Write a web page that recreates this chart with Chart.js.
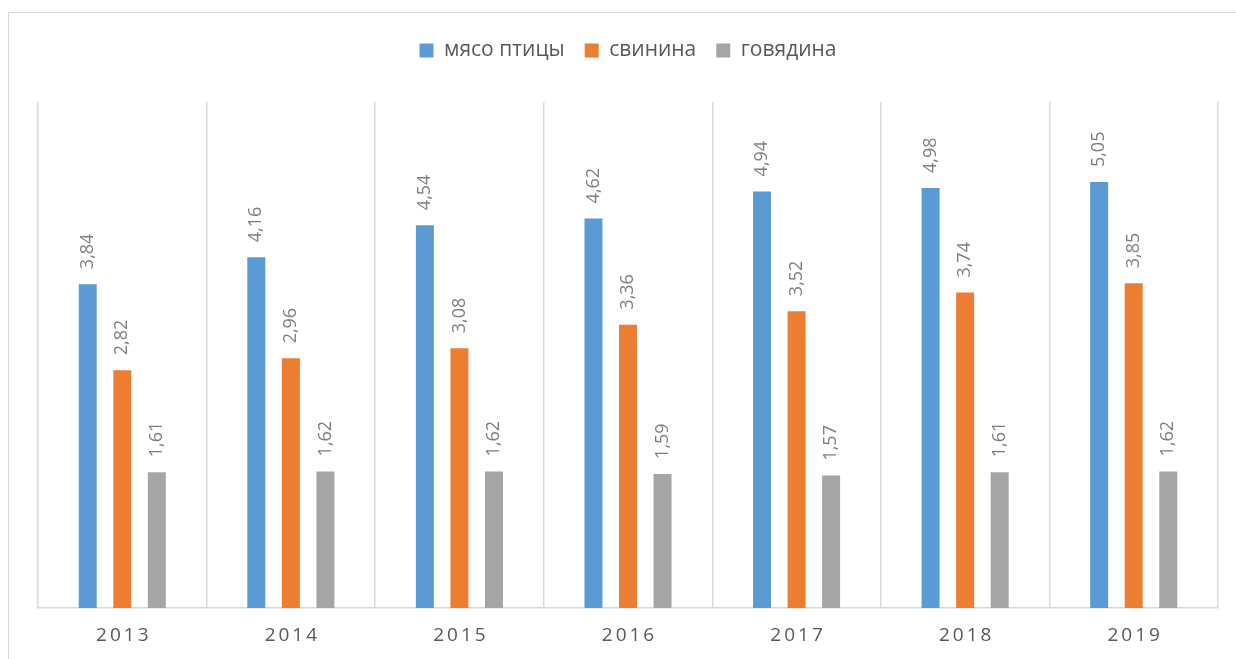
<!DOCTYPE html>
<html>
<head>
<meta charset="utf-8">
<script src="https://cdn.jsdelivr.net/npm/chart.js@4.4.1/dist/chart.umd.min.js"></script>
<style>
  html, body { margin: 0; padding: 0; background: #fff; }
  #wrap { position: relative; width: 1236px; height: 659px; overflow: hidden; }
  #frame { position: absolute; left: 8px; top: 12px; width: 1300px; height: 700px; border: 1px solid #d9d9d9; box-sizing: border-box; }
  canvas { position: absolute; left: 0; top: 0; }
</style>
</head>
<body>
<div id="wrap">
  <div id="frame"></div>
  <canvas id="meatChart" width="1236" height="659"></canvas>
</div>
<script>
// data
const years = ['2013', '2014', '2015', '2016', '2017', '2018', '2019'];
const poultry = [3.84, 4.16, 4.54, 4.62, 4.94, 4.98, 5.05];
const pork = [2.82, 2.96, 3.08, 3.36, 3.52, 3.74, 3.85];
const beef = [1.61, 1.62, 1.62, 1.59, 1.57, 1.61, 1.62];

const fontFam = "'Open Sans', 'DejaVu Sans', sans-serif";

// legend height tweak so plot starts lower
const legendHeight = {
  id: 'legendHeight',
  beforeInit(chart) {
    const origFit = chart.legend.fit;
    chart.legend.fit = function () {
      origFit.bind(chart.legend)();
      this.height = 82;
    };
  }
};

// rotated value labels + spaced year labels
const labelsPlugin = {
  id: 'labelsPlugin',
  afterDraw(chart) {
    const ctx = chart.ctx;
    ctx.save();
    ctx.font = '18px ' + fontFam;
    ctx.fillStyle = '#7f7f7f';
    ctx.textAlign = 'left';
    ctx.textBaseline = 'middle';
    chart.data.datasets.forEach((ds, i) => {
      chart.getDatasetMeta(i).data.forEach((bar, j) => {
        const txt = ds.data[j].toFixed(2).replace('.', ',');
        ctx.save();
        ctx.translate(bar.x, bar.y - 15);
        ctx.rotate(-Math.PI / 2);
        ctx.fillText(txt, 0, 0);
        ctx.restore();
      });
    });
    // x labels
    const xs = chart.scales.x;
    ctx.font = '19px ' + fontFam;
    ctx.fillStyle = '#595959';
    ctx.textAlign = 'center';
    ctx.letterSpacing = '3px';
    years.forEach((y, i) => {
      ctx.fillText(y, xs.getPixelForValue(i) + 1.5, chart.chartArea.bottom + 28);
    });
    ctx.restore();
  }
};

new Chart(document.getElementById('meatChart').getContext('2d'), {
  type: 'bar',
  data: {
    labels: years,
    datasets: [
      { label: 'мясо птицы', data: poultry, backgroundColor: '#5b9bd5' },
      { label: 'свинина', data: pork, backgroundColor: '#ed7d31' },
      { label: 'говядина', data: beef, backgroundColor: '#a5a5a5' }
    ]
  },
  options: {
    responsive: false,
    animation: false,
    categoryPercentage: 0.615,
    barPercentage: 0.52,
    layout: { padding: { top: 20, left: 38, right: 18, bottom: 51 } },
    scales: {
      x: {
        grid: { display: true, offset: true, color: '#d9d9d9', drawTicks: false, lineWidth: 1.5 },
        border: { display: true, color: '#d9d9d9', width: 1.5 },
        ticks: { display: false }
      },
      y: {
        display: false,
        min: 0,
        max: 6
      }
    },
    plugins: {
      legend: {
        position: 'top',
        labels: {
          boxWidth: 14,
          boxHeight: 14,
          padding: 20,
          color: '#595959',
          font: { size: 21, family: fontFam }
        }
      },
      tooltip: { enabled: false }
    }
  },
  plugins: [legendHeight, labelsPlugin]
});
</script>
</body>
</html>
